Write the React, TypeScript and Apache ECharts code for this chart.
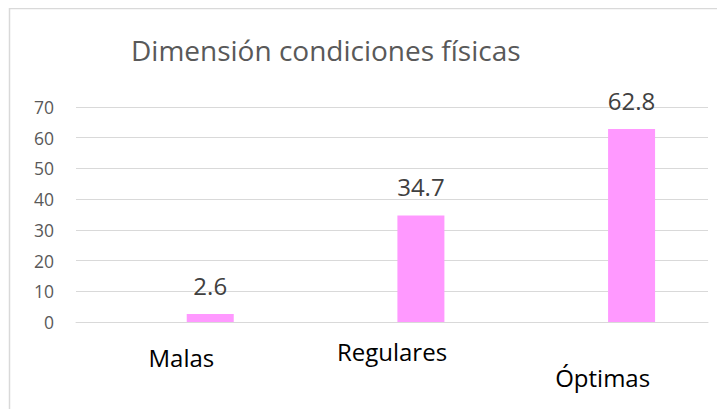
import React, { useEffect, useRef } from "react";
import * as echarts from "echarts";

const categories = ["Malas", "Regulares", "Óptimas"];
const hiddenSeries = [null, null, null];
const values = [2.6, 34.7, 62.8];
const yMin = 0;
const yMax = 70;
const yInterval = 10;
const title = "Dimensión condiciones físicas";
const labelPads = [6, 0, 26];

export default function App() {
  const ref = useRef<HTMLDivElement>(null);
  useEffect(() => {
    if (!ref.current) return;
    const chart = echarts.init(ref.current, null, { renderer: "svg" });
    const font = "'Open Sans', sans-serif";
    chart.setOption({
      animation: false,
      backgroundColor: "#ffffff",
      title: {
        text: title,
        left: 118,
        top: 23,
        textStyle: { fontFamily: font, fontSize: 28, fontWeight: "normal", color: "#595959" },
      },
      graphic: [
        {
          type: "rect",
          shape: { x: 1.5, y: 0.5, width: 800, height: 500 },
          style: { fill: "none", stroke: "#d9d9d9", lineWidth: 1.5 },
          silent: true,
        },
      ],
      grid: { left: 68, right: 17, top: 99, bottom: 87, containLabel: false },
      xAxis: {
        type: "category",
        data: categories.map((c, i) => ({ value: c, textStyle: { padding: [labelPads[i], 0, 0, 0] } })),
        axisLine: { lineStyle: { color: "#d9d9d9", width: 1 } },
        axisTick: { show: false },
        axisLabel: { fontFamily: font, fontSize: 24, color: "#000000", margin: 17, interval: 0 },
      },
      yAxis: {
        type: "value",
        min: yMin,
        max: yMax,
        interval: yInterval,
        axisLine: { show: false },
        axisTick: { show: false },
        splitLine: { lineStyle: { color: "#d9d9d9", width: 1 } },
        axisLabel: { fontFamily: font, fontSize: 17.5, color: "#595959", margin: 22 },
      },
      series: [
        {
          type: "bar",
          data: hiddenSeries,
          barWidth: 47,
          barGap: "23%",
          itemStyle: { color: "transparent" },
        },
        {
          type: "bar",
          data: values,
          barWidth: 47,
          barGap: "23%",
          itemStyle: { color: "#ff99ff" },
          label: {
            show: true,
            position: "top",
            distance: 17,
            fontFamily: font,
            fontSize: 24,
            color: "#404040",
          },
        },
      ],
    });
    return () => chart.dispose();
  }, []);
  return <div ref={ref} style={{ width: 717, height: 401 }} />;
}
